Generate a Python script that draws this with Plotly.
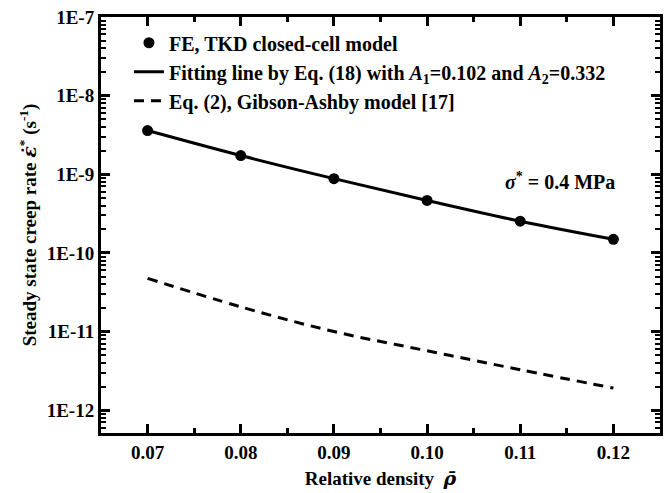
import plotly.graph_objects as go

rel_density = [0.07, 0.08, 0.09, 0.10, 0.11, 0.12]
fe_rate = [3.6e-9, 1.73e-9, 8.8e-10, 4.65e-10, 2.53e-10, 1.49e-10]
fit_rate = [3.6e-9, 1.73e-9, 8.8e-10, 4.65e-10, 2.53e-10, 1.49e-10]
ga_rate = [4.75e-11, 2.06e-11, 1.0e-11, 5.7e-12, 3.27e-12, 1.91e-12]

ytick_vals = [1e-12, 1e-11, 1e-10, 1e-9, 1e-8, 1e-7]
ytick_text = ["1E-12", "1E-11", "1E-10", "1E-9", "1E-8", "1E-7"]
xtick_vals = [0.07, 0.08, 0.09, 0.10, 0.11, 0.12]
xtick_text = ["0.07", "0.08", "0.09", "0.10", "0.11", "0.12"]
x_minor = [0.065, 0.075, 0.085, 0.095, 0.105, 0.115, 0.125]
y_minor = [m * d for d in [1e-13, 1e-12, 1e-11, 1e-10, 1e-9, 1e-8] for m in range(2, 10)]

FONT = "Liberation Serif"
SER = "<span style='font-family:DejaVu Serif'>"

fig = go.Figure()
fig.add_trace(go.Scatter(
    x=rel_density, y=fe_rate, mode="markers",
    marker=dict(symbol="circle", size=11, color="black"),
    name="<b>FE, TKD closed-cell model</b>"))
fig.add_trace(go.Scatter(
    x=rel_density, y=fit_rate, mode="lines", line_shape="spline",
    line=dict(color="black", width=3),
    name="<b>Fitting line by Eq. (18) with <i>A</i><sub>1</sub>=0.102 and <i>A</i><sub>2</sub>=0.332</b>"))
fig.add_trace(go.Scatter(
    x=rel_density, y=ga_rate, mode="lines", line_shape="spline",
    line=dict(color="black", width=3, dash="10px,7px"),
    name="<b>Eq. (2), Gibson-Ashby model [17]</b>"))

fig.add_annotation(
    x=0.1081, y=-9.09, xref="x", yref="y",
    text="<b><i>σ</i><sup>*</sup> = 0.4 MPa</b>", showarrow=False,
    xanchor="left", yanchor="middle",
    font=dict(family=FONT, size=20, color="black"))

fig.update_layout(
    width=666, height=493,
    margin=dict(l=101, r=3, t=17, b=60),
    paper_bgcolor="white", plot_bgcolor="white",
    font=dict(family=FONT, size=20, color="black"),
    showlegend=True,
    legend=dict(x=0.05, y=0.985, xanchor="left", yanchor="top",
                bgcolor="rgba(0,0,0,0)", font=dict(family=FONT, size=20),
                tracegroupgap=0),
)

fig.update_xaxes(
    range=[0.065, 0.125],
    tickvals=xtick_vals, ticktext=xtick_text,
    ticks="inside", ticklen=9, tickwidth=3, tickcolor="black",
    showline=True, linewidth=3, linecolor="black", mirror="allticks",
    showgrid=False, zeroline=False,
    tickfont=dict(family=FONT, size=19, color="black", weight="bold"),
    minor=dict(ticks="inside", ticklen=5, tickwidth=3, tickcolor="black",
               tickvals=x_minor, showgrid=False),
    title=dict(text="<b>Relative density  <i>" + SER + "ρ̄</span></i></b>",
               font=dict(family=FONT, size=19), standoff=10),
)
fig.update_yaxes(
    type="log", range=[-12.29, -7],
    tickvals=ytick_vals, ticktext=ytick_text,
    ticks="inside", ticklen=9, tickwidth=3, tickcolor="black",
    showline=True, linewidth=3, linecolor="black", mirror="allticks",
    showgrid=False, zeroline=False,
    tickfont=dict(family=FONT, size=19, color="black", weight="bold"),
    minor=dict(ticks="inside", ticklen=5, tickwidth=2, tickcolor="black",
               tickvals=y_minor, showgrid=False),
    title=dict(text="<b>Steady state creep rate <i>" + SER + "ε̇</span></i><sup>*</sup> (s<sup>-1</sup>)</b>",
               font=dict(family=FONT, size=19), standoff=6),
)

fig.write_html("out.html")
